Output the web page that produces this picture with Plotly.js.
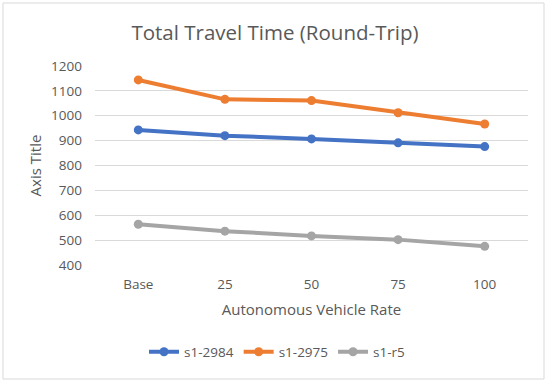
<!DOCTYPE html>
<html>
<head>
<meta charset="utf-8">
<script src="https://cdn.plot.ly/plotly-3.0.1.min.js"></script>
<style>html,body{margin:0;padding:0;background:#fff;}#chart{width:550px;height:383px;}</style>
</head>
<body>
<div id="chart"></div>
<script>
const categories = ["Base", "25", "50", "75", "100"];
const seriesNames = ["s1-2984", "s1-2975", "s1-r5"];
const s1_2984 = [943, 920, 907, 891, 876];
const s1_2975 = [1144, 1066, 1061, 1012, 967];
const s1_r5 = [564, 536, 517, 502, 475];
const yTicks = [400, 500, 600, 700, 800, 900, 1000, 1100, 1200];

const colors = ["#4472C4", "#ED7D31", "#A5A5A5"];
const values = [s1_2984, s1_2975, s1_r5];
const FONT = "Open Sans, Noto Sans, sans-serif";

const traces = values.map((v, i) => ({
  x: categories, y: v, name: seriesNames[i], type: "scatter", mode: "lines+markers",
  line: {color: colors[i], width: 4},
  marker: {color: colors[i], size: 9}
}));

const L = 95, R = 528, T = 66, B = 265, W = 550, H = 383;
const pw = R - L, ph = B - T;
const px = x => (x - L) / pw;
const py = y => (B - y) / ph;

const layout = {
  width: W, height: H,
  margin: {l: L, r: W - R, t: T, b: H - B, pad: 0},
  paper_bgcolor: "#fff", plot_bgcolor: "#fff",
  font: {family: FONT, color: "#595959", size: 13},
  title: {text: "Total Travel Time (Round-Trip)", x: 0.5, xanchor: "center", y: 1 - 33/H, yanchor: "middle",
          font: {family: FONT, size: 20.5, color: "#595959"}},
  xaxis: {type: "category", range: [-0.5, 4.5], showgrid: false, zeroline: false,
          showline: false, ticks: "", ticklabelstandoff: 9, tickfont: {size: 13.5, color: "#595959"},
          title: {text: "Autonomous Vehicle Rate", font: {size: 15, color: "#595959"}, standoff: 12}},
  yaxis: {range: [400, 1200], tickvals: yTicks, showgrid: true, gridcolor: "#D9D9D9", gridwidth: 1,
          zeroline: false, showline: false, ticks: "", ticklabelstandoff: 12,
          tickfont: {size: 13.5, color: "#595959"},
          title: {text: "Axis Title", font: {size: 15, color: "#595959"}, standoff: 5}},
  showlegend: true,
  legend: {orientation: "h", x: px(277), xanchor: "center", y: py(352), yanchor: "middle",
           font: {size: 13.5, color: "#595959"}, itemwidth: 30},
  shapes: [{type: "rect", xref: "paper", yref: "paper", x0: px(3), x1: px(544), y0: py(379), y1: py(3),
            line: {color: "#D9D9D9", width: 1}, fillcolor: "rgba(0,0,0,0)", layer: "below"}]
};

Plotly.newPlot("chart", traces, layout, {displayModeBar: false, staticPlot: true});
</script>
</body>
</html>
